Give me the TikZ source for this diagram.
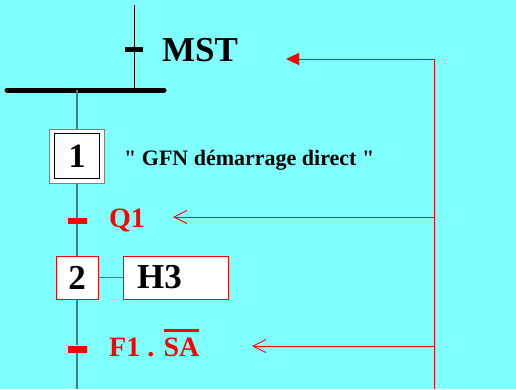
\documentclass[tikz,border=0pt]{standalone}
\usepackage{fontspec}
\setmainfont{Liberation Serif}[Ligatures=TeXOff]
\usetikzlibrary{arrows.meta}
\definecolor{bg}{HTML}{80FFFF}
\definecolor{linkc}{HTML}{408080}
\newcommand{\myoverbar}[1]{{\setbox0\hbox{#1}\rlap{\rule[24.5pt]{\wd0}{2.7pt}}\box0}}
\begin{document}
\begin{tikzpicture}[x=1pt,y=-1pt,
  txt/.style={inner sep=0pt,font=\bfseries},
  dashb/.style={draw=none,fill=black,minimum width=18pt,minimum height=5pt,inner sep=0pt},
  dashr/.style={draw=none,fill=red,minimum width=19pt,minimum height=6pt,inner sep=0pt},
  link/.style={draw=linkc,line width=1.2pt},
  fb/.style={draw=red,line width=0.9pt},
  redbox/.style={draw=red,fill=white,line width=0.8pt,inner sep=0pt}]
\fill[bg] (0,0) rectangle (516,389);
\useasboundingbox (0,0) rectangle (516,389);
% top transition
\coordinate (top) at (134,5);
\coordinate (barL) at (7,90);
\coordinate (barR) at (164,90);
\coordinate (barM) at (134,90);
\coordinate (barS) at (77,90);
\draw[line width=1pt] (top) -- (barM);
\node[dashb] (t0) at (134,49.5) {};
\node[txt,anchor=base west,font=\bfseries\fontsize{35}{35}\selectfont] (mst) at (162,61) {MST};
\draw[line width=5pt,line cap=round] (barL) -- (barR);
% step 1
\node[draw=gray,fill=white,line width=0.8pt,minimum width=55pt,minimum height=54pt,inner sep=0pt] (s1o) at (77,156) {};
\node[draw=black,line width=0.8pt,minimum width=45pt,minimum height=45pt,inner sep=0pt,font=\bfseries\fontsize{34}{34}\selectfont] (s1) at (77,156) {1};
\node[txt,anchor=base west,font=\bfseries\fontsize{22}{22}\selectfont] (a1) at (124,165) {" GFN démarrage direct "};
\draw[link] (barS) -- (s1o.north);
% transition 1
\node[dashr] (t1) at (77,221) {};
\node[txt,anchor=base west,text=red,font=\bfseries\fontsize{28}{28}\selectfont] (q1) at (109,227) {Q1};
% step 2
\node[redbox,minimum width=42pt,minimum height=43pt,font=\bfseries\fontsize{35}{35}\selectfont] (s2) at (77,277.5) {2};
\node[redbox,minimum width=105pt,minimum height=43pt] (h3box) at (175.5,277.5) {};
\node[txt,anchor=base west,font=\bfseries\fontsize{35}{35}\selectfont] (h3) at (137,288) {H3};
\draw[link] (s1o.south) -- (t1) -- (s2.north);
\draw[link] (s2.east) -- (h3box.west);
% transition 2
\node[dashr,minimum height=7pt] (t2) at (77,349) {};
\node[txt,anchor=base west,text=red,font=\bfseries\fontsize{28}{28}\selectfont] (f1) at (109,356) {F1 . \myoverbar{SA}};
\coordinate (bot) at (77,389);
\draw[link] (s2.south) -- (t2) -- (bot);
% feedback lines
\coordinate (Rtop) at (434,59);
\coordinate (Rq) at (434,217);
\coordinate (Rf) at (434,346);
\coordinate (Rbot) at (434,389);
\coordinate (aT) at (286,59);
\coordinate (aQ) at (173,217);
\coordinate (aF) at (252,346);
\draw[fb] (Rbot) -- (Rtop);
\draw[fb,-{Triangle[length=13pt,width=12pt]}] (Rtop) -- (aT);
\draw[fb,-{Straight Barb[length=13pt,width=13pt]}] (Rq) -- (aQ);
\draw[fb,-{Straight Barb[length=13pt,width=13pt]}] (Rf) -- (aF);
\end{tikzpicture}
\end{document}
